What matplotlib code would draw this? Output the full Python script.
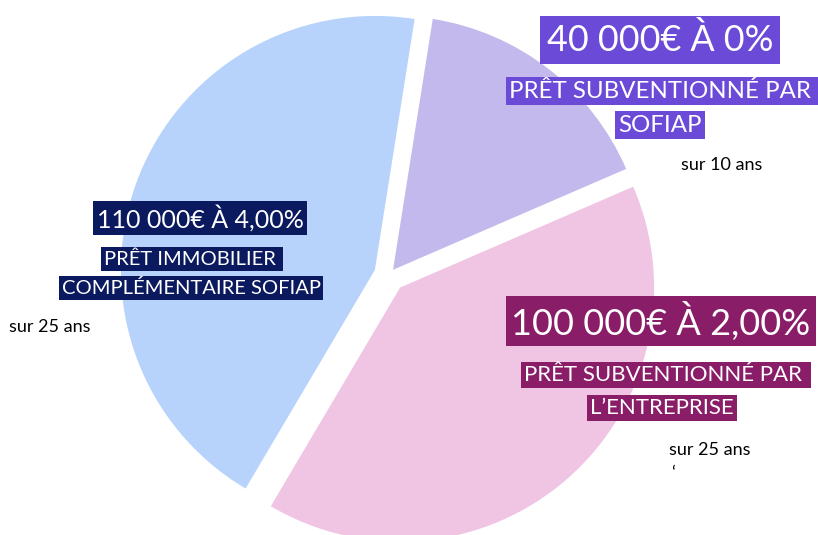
import matplotlib
matplotlib.use("Agg")
import matplotlib.pyplot as plt

# ---- data ----
loan_labels = ["Prêt immobilier complémentaire SOFIAP",
               "Prêt subventionné par l'entreprise",
               "Prêt subventionné par SOFIAP"]
loan_amounts = [110000, 100000, 40000]
slice_colors = ["#B8D3FB", "#F0C5E4", "#C3B9EC"]
explode_vals = [0.059, 0.066, 0.026]

titles = ["110 000€ À 4,00%", "100 000€ À 2,00%", "40 000€ À 0%"]
subtitles = [["PRÊT IMMOBILIER ", "COMPLÉMENTAIRE SOFIAP"],
             ["PRÊT SUBVENTIONNÉ PAR ", "L’ENTREPRISE"],
             ["PRÊT SUBVENTIONNÉ PAR ", "SOFIAP"]]
durations = ["sur 25 ans", "sur 25 ans", "sur 10 ans"]
box_colors = ["#0B195E", "#8A1D67", "#6B4AD8"]

W, H = 818, 535
plt.rcParams['font.family'] = ['Lato', 'DejaVu Sans']
fig = plt.figure(figsize=(W / 100, H / 100), dpi=100)
ax = fig.add_axes([0, 0, 1, 1])

cx, cy, R = 389, 275, 254
ax.pie(loan_amounts, colors=slice_colors, explode=explode_vals,
       startangle=81, counterclock=True, radius=1,
       wedgeprops=dict(linewidth=0))
ax.set_xlim((0 - cx) / R, (W - cx) / R)
ax.set_ylim((cy - H) / R, (cy - 0) / R)
ax.set_aspect('equal')
ax.axis('off')


def ftext(x, y, s, size, color='white', bg=None, pad=0.12):
    kw = {}
    if bg is not None:
        kw['bbox'] = dict(boxstyle=f'square,pad={pad}', fc=bg, ec='none')
    fig.text(x / W, 1 - y / H, s, fontsize=size, color=color,
             ha='center', va='center', **kw)

# label placement (pixel coords)
layout = [
    dict(title=(200, 218, 18), sub=[(192, 259, 14.5), (191, 288, 14.5)], dur=(50, 327)),
    dict(title=(661, 321, 26), sub=[(666, 375, 16), (662, 408, 16)], dur=(710, 450)),
    dict(title=(660, 40, 25.8), sub=[(663, 91, 17.3), (660, 125, 17.3)], dur=(722, 165)),
]
title_pads = [0.14, 0.16, 0.2]
for i, lay in enumerate(layout):
    tx, ty, ts = lay['title']
    ftext(tx, ty, titles[i], ts, bg=box_colors[i], pad=title_pads[i])
    for (sx, sy, ss), line in zip(lay['sub'], subtitles[i]):
        ftext(sx, sy, line, ss, bg=box_colors[i], pad=0.14)
    dx, dy = lay['dur']
    ftext(dx, dy, durations[i], 13, color='black')

ftext(673, 473, "‘", 13, color='black')

fig.savefig("out.png", dpi=100)
